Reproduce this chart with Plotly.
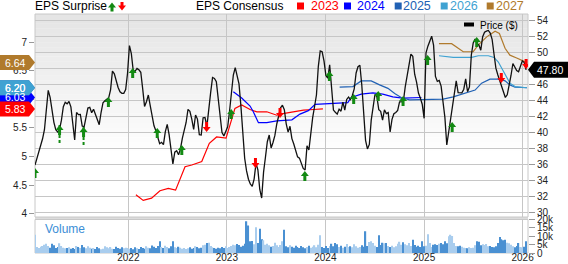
import pandas as pd
import plotly.graph_objects as go

# ---------------- data ----------------
price_start = "2021-01-20"
price = [
    35.94, 36.78, 37.59, 38.28, 39.21, 40.34, 42.54, 45.23, 44.37, 42.79,
    41.26, 40.33, 40.05, 40.39, 41.53, 43.20, 43.76, 43.56, 43.85, 43.18,
    41.12, 39.06, 42.49, 42.21, 42.23, 40.79, 40.69, 42.01, 43.03, 43.12,
    42.46, 42.89, 42.19, 41.43, 40.96, 42.51, 43.70, 43.95, 44.10, 44.30,
    45.31, 47.65, 47.29, 46.39, 45.59, 45.06, 44.87, 44.87, 45.33, 47.40,
    50.82, 49.83, 47.71, 47.61, 47.97, 47.80, 47.49, 45.46, 43.24, 43.83,
    44.66, 43.34, 41.85, 40.82, 40.20, 39.30, 38.60, 38.77, 38.48, 40.10,
    41.01, 39.73, 37.95, 36.07, 37.54, 37.72, 37.21, 37.94, 39.26, 40.13,
    41.24, 42.87, 42.63, 41.65, 40.39, 42.17, 41.66, 39.72, 39.68, 41.83,
    41.86, 40.76, 43.20, 44.98, 46.84, 46.73, 46.32, 43.99, 41.83, 39.99,
    39.57, 40.04, 40.71, 42.67, 45.41, 47.15, 48.08, 47.18, 46.05, 43.31,
    39.32, 36.78, 35.21, 34.17, 33.58, 33.29, 34.19, 36.15, 35.33, 32.90,
    31.83, 35.05, 36.91, 38.84, 39.68, 38.06, 38.74, 39.63, 41.05, 42.01,
    43.07, 43.39, 42.83, 41.07, 40.04, 40.76, 39.23, 38.55, 37.64, 36.96,
    36.80, 36.27, 35.51, 35.32, 38.33, 37.81, 39.99, 41.85, 43.23, 44.66,
    48.23, 50.16, 50.06, 48.91, 47.10, 46.75, 48.42, 45.62, 42.78, 42.51,
    42.28, 42.90, 42.64, 43.78, 42.79, 44.11, 44.41, 44.09, 44.61, 45.41,
    47.40, 48.18, 48.36, 45.91, 42.33, 39.01, 37.94, 38.50, 41.53, 43.08,
    44.75, 44.45, 42.84, 42.63, 41.52, 42.82, 42.34, 42.47, 40.05, 41.62,
    42.32, 42.48, 42.73, 43.81, 43.86, 43.83, 45.68, 47.11, 48.63, 49.75,
    49.47, 47.25, 46.27, 44.91, 44.29, 43.51, 41.76, 49.92, 50.74, 51.43,
    51.98, 50.86, 46.98, 46.35, 46.47, 45.77, 44.00, 41.87, 38.43, 39.93,
    41.70, 42.90, 44.59, 46.42, 44.96, 44.92, 44.92, 45.38, 46.66, 45.07,
    45.66, 49.64, 51.14, 51.62, 51.04, 50.89, 50.24, 51.91, 52.47, 52.62,
    52.70, 52.38, 51.60, 49.77, 48.00, 47.19, 46.49, 45.71, 44.85, 44.35,
    44.68, 45.81, 47.09, 48.58, 48.11, 47.70, 47.56, 48.23, 48.92, 48.70,
    47.80,
]

volume_k = [
    # 2021
    11.0, 3.6, 3.0, 3.8, 4.2, 5.0, 5.6, 4.2, 3.2, 5.6,
    4.6, 3.0, 3.6, 5.8, 4.2, 3.2, 2.8, 3.0, 3.4, 2.6,
    3.0, 2.4, 4.2, 3.6, 3.0, 4.8, 3.4, 2.8, 4.0, 3.2,
    2.6, 3.0, 2.4, 3.6, 2.8, 2.2, 2.6, 4.0, 3.4, 2.8,
    3.6, 2.6, 2.4, 3.8, 3.0, 2.6, 3.4, 2.8, 3.2, 3.0,
    # 2022
    2.6, 3.0, 2.2, 3.4, 2.8, 2.4, 3.6, 3.0, 2.6, 4.0,
    3.2, 2.8, 4.5, 3.8, 3.0, 4.2, 7.0, 3.6, 3.0, 4.4,
    3.6, 2.8, 4.0, 7.0, 3.4, 3.0, 3.8, 3.2, 2.6, 3.0,
    2.4, 2.8, 3.4, 2.6, 3.0, 4.0, 3.6, 2.8, 3.2, 4.6,
    5.0, 6.0, 6.2, 4.2, 3.4, 3.0, 2.6, 3.2, 2.8, 3.6, 3.0, 4.0,
    # 2023
    3.0, 3.6, 4.2, 5.0, 4.6, 5.4, 4.8, 3.8, 4.4, 5.6,
    19.0, 16.5, 7.0, 7.2, 5.2, 15.5, 6.0, 14.5, 8.2, 7.6,
    5.0, 5.6, 4.6, 3.8, 4.2, 6.2, 4.6, 3.6, 4.8, 7.0,
    14.0, 4.0, 3.4, 4.6, 3.8, 3.2, 4.4, 3.6, 3.0, 4.2,
    3.4, 2.8, 3.6, 4.4, 3.2, 3.8, 4.6, 3.4, 5.0, 10.7, 3.6, 3.0, 4.2,
    # 2024
    3.0, 4.2, 5.6, 4.0, 6.0, 5.2, 3.6, 4.4, 3.2, 3.8,
    5.4, 3.6, 4.0, 3.4, 5.2, 4.0, 3.2, 3.6, 4.6, 3.8,
    13.0, 4.2, 6.6, 7.0, 6.0, 4.4, 3.6, 10.7, 4.8, 6.2,
    5.8, 6.0, 4.2, 3.6, 4.4, 3.4, 4.0, 5.6, 6.8, 5.0,
    6.4, 5.2, 4.6, 6.0, 4.2, 8.0, 4.8, 3.8, 4.4, 3.6, 7.0, 4.0,
    # 2025
    4.4, 11.2, 6.0, 3.6, 5.0, 5.2, 4.8, 5.6, 6.0, 5.2,
    7.0, 5.8, 10.0, 11.0, 10.2, 6.0, 4.2, 4.0, 4.4, 3.8,
    3.2, 3.0, 2.8, 3.4, 3.0, 3.2, 4.6, 7.0, 6.8, 4.6,
    5.2, 4.8, 5.4, 4.0, 4.2, 3.6, 3.4, 4.0, 6.0, 9.6,
    8.2, 7.6, 8.0, 6.2, 5.8, 5.0, 4.0, 3.4, 4.2, 6.0,
    3.6, 3.4, 3.8, 7.0,
]
volume = [v * 1000 for v in volume_k]

surprise_up_dates = [
    "2021-01-20", "2021-04-21", "2021-07-19", "2021-10-19", "2022-01-17",
    "2022-04-18", "2022-07-18", "2023-01-17", "2023-10-17", "2024-01-16",
    "2024-04-15", "2024-07-15", "2024-10-15", "2025-01-14", "2025-04-15",
    "2025-07-15",
]
surprise_up_price = [
    35.57, 40.92, 40.67, 44.41, 48.02,
    40.55, 38.43, 42.92, 35.20, 47.65,
    44.78, 45.16, 44.54, 49.64, 41.30,
    51.88,
]
surprise_down_dates = ["2022-10-18", "2023-04-17", "2023-07-17", "2025-10-14", "2026-01-14"]
surprise_down_price = [40.05, 35.57, 41.80, 46.15, 47.90]

# dotted tails under two early surprises (date, top price, bottom price)
tail_dates = ["2021-04-21", "2021-07-19"]
tail_top = [40.92, 40.67]
tail_bottom = [38.68, 38.18]

cons_2023_dates = ["2022-01-29", "2022-02-25", "2022-03-28", "2022-04-28", "2022-05-29",
                   "2022-06-25", "2022-07-30", "2022-08-24", "2022-09-30", "2022-10-28",
                   "2022-11-24", "2022-12-29", "2023-01-31", "2023-02-25", "2023-03-28",
                   "2023-04-22", "2023-05-29", "2023-07-05", "2023-07-17", "2023-08-30",
                   "2023-10-12", "2023-11-18", "2023-12-23"]
cons_2023 = [4.33, 4.23, 4.27, 4.40, 4.44, 4.41, 4.82, 4.85, 4.91, 5.23,
             5.34, 5.32, 5.84, 5.90, 5.82, 5.78, 5.78, 5.72, 5.74, 5.78,
             5.81, 5.82, 5.83]

cons_2024_dates = ["2023-01-25", "2023-02-25", "2023-03-28", "2023-04-09", "2023-04-28",
                   "2023-05-29", "2023-07-05", "2023-08-30", "2023-09-29", "2023-10-30",
                   "2023-11-24", "2023-12-23", "2024-01-29", "2024-03-24", "2024-04-06",
                   "2024-05-13", "2024-06-25", "2024-08-01", "2024-09-07", "2024-10-14",
                   "2024-12-22"]
cons_2024 = [6.13, 6.02, 5.88, 5.78, 5.59, 5.59, 5.62, 5.64, 5.74, 5.80,
             5.91, 5.92, 5.93, 5.94, 6.03, 6.09, 6.11, 6.09, 6.04, 6.02,
             6.03]

cons_2025_dates = ["2024-02-23", "2024-04-12", "2024-05-13", "2024-06-19", "2024-07-20",
                   "2024-08-20", "2024-09-14", "2024-10-08", "2024-11-08", "2024-12-22",
                   "2025-02-04", "2025-03-13", "2025-04-19", "2025-05-26", "2025-07-09",
                   "2025-08-02", "2025-09-02", "2025-10-09", "2025-10-28", "2025-11-15",
                   "2025-12-04", "2026-01-17"]
cons_2025 = [6.21, 6.22, 6.32, 6.32, 6.25, 6.19, 6.10, 6.03, 5.99, 5.99,
             6.00, 6.00, 6.04, 6.09, 6.16, 6.28, 6.35, 6.35, 6.32, 6.25,
             6.21, 6.20]

cons_2026_dates = ["2025-02-25", "2025-04-19", "2025-06-26", "2025-07-21", "2025-08-27",
                   "2025-09-17", "2025-10-03", "2025-10-22", "2025-11-15", "2025-12-04",
                   "2026-01-17"]
cons_2026 = [6.76, 6.73, 6.73, 6.76, 6.76, 6.73, 6.65, 6.48, 6.28, 6.22, 6.20]

cons_2027_dates = ["2025-02-25", "2025-04-13", "2025-05-26", "2025-07-02", "2025-07-21",
                   "2025-08-21", "2025-09-21", "2025-10-07", "2025-10-28", "2025-11-15",
                   "2025-12-10", "2026-01-05", "2026-01-17"]
cons_2027 = [6.97, 6.97, 6.83, 6.83, 6.95, 7.09, 7.19, 7.15, 6.89, 6.77,
             6.72, 6.67, 6.64]

years = ["2023", "2024", "2025", "2026", "2027"]
year_colors = {"2023": "#ff0000", "2024": "#0000ff", "2025": "#2161b4",
               "2026": "#3fa2d2", "2027": "#b07a2c"}
consensus = {"2023": (cons_2023_dates, cons_2023), "2024": (cons_2024_dates, cons_2024),
             "2025": (cons_2025_dates, cons_2025), "2026": (cons_2026_dates, cons_2026),
             "2027": (cons_2027_dates, cons_2027)}
# label drawing order (later ones on top)
label_order = ["2024", "2025", "2027", "2026", "2023"]

x_range = ["2021-01-20", "2026-01-21"]
eps_range = [3.9406, 7.4895]
eps_ticks = [4, 4.5, 5, 5.5, 6, 6.5, 7]
eps_ticktext = ["4", "4.5", "5", "5.5", "", "6.5", "7"]   # "6" sits under the value tags
price_range = [29.467, 54.747]
price_ticks = [30, 32, 34, 36, 38, 40, 42, 44, 46, 48, 50, 52, 54]
price_ticktext = ["30", "32", "34", "36", "38", "40", "42", "44", "46", "", "50", "52", "54"]  # 48 under price tag
vol_range = [0, 20100]
vol_ticks = [0, 5000, 10000, 15000, 20000]
vol_ticktext = ["0", "5k", "10k", "15k", "20k"]

# ---------------- figure ----------------
FONT = "Liberation Sans, Arial, sans-serif"
GREEN = "#138a13"
RED = "#ff0000"
MAIN_BOTTOM = 0.1506
VOL_TOP = 0.1402

dates = pd.date_range(price_start, periods=len(price), freq="7D")

fig = go.Figure()

# volume
vol_colors = ["#a9cdee" if i == 0 or price[i] >= price[i - 1] else "#4a90d2"
              for i in range(len(volume))]
fig.add_trace(go.Bar(x=dates[:len(volume)], y=volume, marker=dict(color=vol_colors, line=dict(width=0)),
                     xaxis="x", yaxis="y3", hoverinfo="skip"))

# consensus lines (EPS axis)
for yr in years:
    d, v = consensus[yr]
    fig.add_trace(go.Scatter(x=d, y=v, mode="lines", line=dict(color=year_colors[yr], width=1.2),
                             xaxis="x", yaxis="y", hoverinfo="skip"))

# dotted tails
for d, t, b in zip(tail_dates, tail_top, tail_bottom):
    fig.add_trace(go.Scatter(x=[d, d], y=[t, b], mode="lines",
                             line=dict(color=GREEN, width=2, dash="3px,2px"),
                             xaxis="x", yaxis="y2", hoverinfo="skip"))

# price line
fig.add_trace(go.Scatter(x=dates, y=price, mode="lines", line=dict(color="#111111", width=1.3),
                         xaxis="x", yaxis="y2", hoverinfo="skip"))

shapes = []
# gradient background in main panel
N = 30
grad_span = 0.70 * (1 - MAIN_BOTTOM)
for i in range(N):
    c = int(229 + (255 - 229) * i / (N - 1))
    y1 = 1 - i * grad_span / N
    shapes.append(dict(type="rect", xref="paper", yref="paper", x0=0, x1=1,
                       y0=y1 - grad_span / N - 0.001, y1=y1, layer="below",
                       fillcolor=f"rgb({c},{c},{c})", line=dict(width=0)))
# separator band between panels
shapes.append(dict(type="rect", xref="paper", yref="paper", x0=0, x1=1, y0=VOL_TOP, y1=MAIN_BOTTOM,
                   fillcolor="#dcdcdc", line=dict(width=0), layer="below"))
# panel borders
shapes.append(dict(type="rect", xref="paper", yref="paper", x0=0, x1=1, y0=MAIN_BOTTOM, y1=1,
                   line=dict(color="#c8c8c8", width=1), layer="below"))
shapes.append(dict(type="rect", xref="paper", yref="paper", x0=0, x1=1, y0=0, y1=VOL_TOP,
                   line=dict(color="#c8c8c8", width=1), layer="below"))

UP_PATH = "M0,0 L4,-5 L1.5,-5 L1.5,-10 L-1.5,-10 L-1.5,-5 L-4,-5 Z"
DOWN_PATH = "M0,0 L4,5 L1.5,5 L1.5,10 L-1.5,10 L-1.5,5 L-4,5 Z"
for d, p in zip(surprise_up_dates, surprise_up_price):
    shapes.append(dict(type="path", xref="x", yref="y2", xsizemode="pixel", ysizemode="pixel",
                       xanchor=d, yanchor=p, path=UP_PATH, fillcolor=GREEN, line=dict(width=0)))
for d, p in zip(surprise_down_dates, surprise_down_price):
    shapes.append(dict(type="path", xref="x", yref="y2", xsizemode="pixel", ysizemode="pixel",
                       xanchor=d, yanchor=p, path=DOWN_PATH, fillcolor=RED, line=dict(width=0)))

annotations = []
# left EPS value tags
for yr in label_order:
    val = consensus[yr][1][-1]
    shapes.append(dict(type="path", xref="paper", yref="y", xsizemode="pixel", ysizemode="pixel",
                       xanchor=0, yanchor=val,
                       path="M0,0 L-6,7.5 L-35,7.5 L-35,-7.5 L-6,-7.5 Z",
                       fillcolor=year_colors[yr], line=dict(width=0)))
    annotations.append(dict(xref="paper", yref="y", x=0, y=val, xshift=-20, xanchor="center",
                            yanchor="middle", showarrow=False, text=f"{val:.2f}",
                            font=dict(family=FONT, size=10.5, color="white")))

# right price tag
last = price[-1]
shapes.append(dict(type="path", xref="paper", yref="y2", xsizemode="pixel", ysizemode="pixel",
                   xanchor=1, yanchor=last, path="M0,0 L6,8 L40,8 L40,-8 L6,-8 Z",
                   fillcolor="#000000", line=dict(width=0)))
annotations.append(dict(xref="paper", yref="y2", x=1, y=last, xshift=22, xanchor="center",
                        yanchor="middle", showarrow=False, text=f"{last:.2f}",
                        font=dict(family=FONT, size=10.5, color="white")))

# header legend
def top_text(txt, px_left, color="#000000", size=12):
    annotations.append(dict(xref="paper", yref="paper", x=0, y=1, xshift=px_left - 35 - 2,
                            yshift=8, xanchor="left", yanchor="middle", showarrow=False,
                            text=txt, font=dict(family=FONT, size=size, color=color)))

top_text("EPS Surprise", 35.3)
top_text("EPS Consensus", 196)
shapes.append(dict(type="path", xref="paper", yref="paper", xsizemode="pixel", ysizemode="pixel",
                   xanchor=0, yanchor=1,
                   path="M77,11.5 L81,6.5 L78.5,6.5 L78.5,2.5 L75.5,2.5 L75.5,6.5 L73,6.5 Z",
                   fillcolor=GREEN, line=dict(width=0)))
shapes.append(dict(type="path", xref="paper", yref="paper", xsizemode="pixel", ysizemode="pixel",
                   xanchor=0, yanchor=1,
                   path="M87,3.5 L91,8.5 L88.5,8.5 L88.5,12 L85.5,12 L85.5,8.5 L83,8.5 Z",
                   fillcolor=RED, line=dict(width=0)))
sq_left = {"2023": 297, "2024": 344, "2025": 394.7, "2026": 440.7, "2027": 486.7}
txt_left = {"2023": 310.7, "2024": 356.7, "2025": 403, "2026": 449.7, "2027": 496}
for yr in years:
    x0 = sq_left[yr] - 35
    shapes.append(dict(type="rect", xref="paper", yref="paper", xsizemode="pixel", ysizemode="pixel",
                       xanchor=0, yanchor=1, x0=x0, x1=x0 + 7, y0=4.5, y1=11.5,
                       fillcolor=year_colors[yr], line=dict(width=0)))
    top_text(yr, txt_left[yr], color=year_colors[yr], size=12.5)

# Price ($) legend inside plot
shapes.append(dict(type="rect", xref="paper", yref="paper", xsizemode="pixel", ysizemode="pixel",
                   xanchor=0, yanchor=1, x0=429, x1=439, y0=-8.5, y1=-12.5,
                   fillcolor="#000000", line=dict(width=0)))
annotations.append(dict(xref="paper", yref="paper", x=0, y=1, xshift=479.5 - 35 - 2, yshift=-11,
                        xanchor="left", yanchor="middle", showarrow=False, text="Price ($)",
                        font=dict(family=FONT, size=10, color="#000000")))

# Volume label
annotations.append(dict(xref="paper", yref="paper", x=0, y=VOL_TOP, xshift=8, yshift=-9.3,
                        xanchor="left", yanchor="middle", showarrow=False, text="Volume",
                        font=dict(family=FONT, size=12, color="#3b8ed6")))

tick_font = dict(family=FONT, size=10, color="#222222")
fig.update_layout(
    width=568, height=264,
    margin=dict(l=35, r=40, t=14, b=11, pad=0, autoexpand=False),
    paper_bgcolor="white", plot_bgcolor="white",
    showlegend=False, bargap=0.35,
    font=dict(family=FONT),
    xaxis=dict(type="date", range=x_range, anchor="y3", tick0="2022-01-01", dtick="M12",
               tickformat="%Y", ticks="", showgrid=True, gridcolor="#c6c6c6", gridwidth=1,
               showline=False, zeroline=False, tickfont=tick_font, fixedrange=True,
               automargin=False, ticklabelstandoff=-3),
    yaxis=dict(domain=[MAIN_BOTTOM, 1], range=eps_range, side="left", anchor="x",
               tickvals=eps_ticks, ticktext=eps_ticktext, ticks="outside", ticklen=5,
               tickcolor="#999999", showgrid=False, zeroline=False, showline=False,
               tickfont=tick_font, automargin=False),
    yaxis2=dict(overlaying="y", side="right", anchor="x", range=price_range,
                tickvals=price_ticks, ticktext=price_ticktext,
                ticks="outside", ticklen=6, tickcolor="#999999", showgrid=True,
                gridcolor="#c6c6c6", gridwidth=1, zeroline=False, showline=False,
                tickfont=tick_font, automargin=False),
    yaxis3=dict(domain=[0, VOL_TOP], range=vol_range, side="right", anchor="x",
                tickvals=vol_ticks, ticktext=vol_ticktext,
                ticks="outside", ticklen=6, tickcolor="#999999", showgrid=False, zeroline=False,
                showline=False, tickfont=tick_font, automargin=False),
    shapes=shapes,
    annotations=annotations,
)

fig.write_html("out.html")
